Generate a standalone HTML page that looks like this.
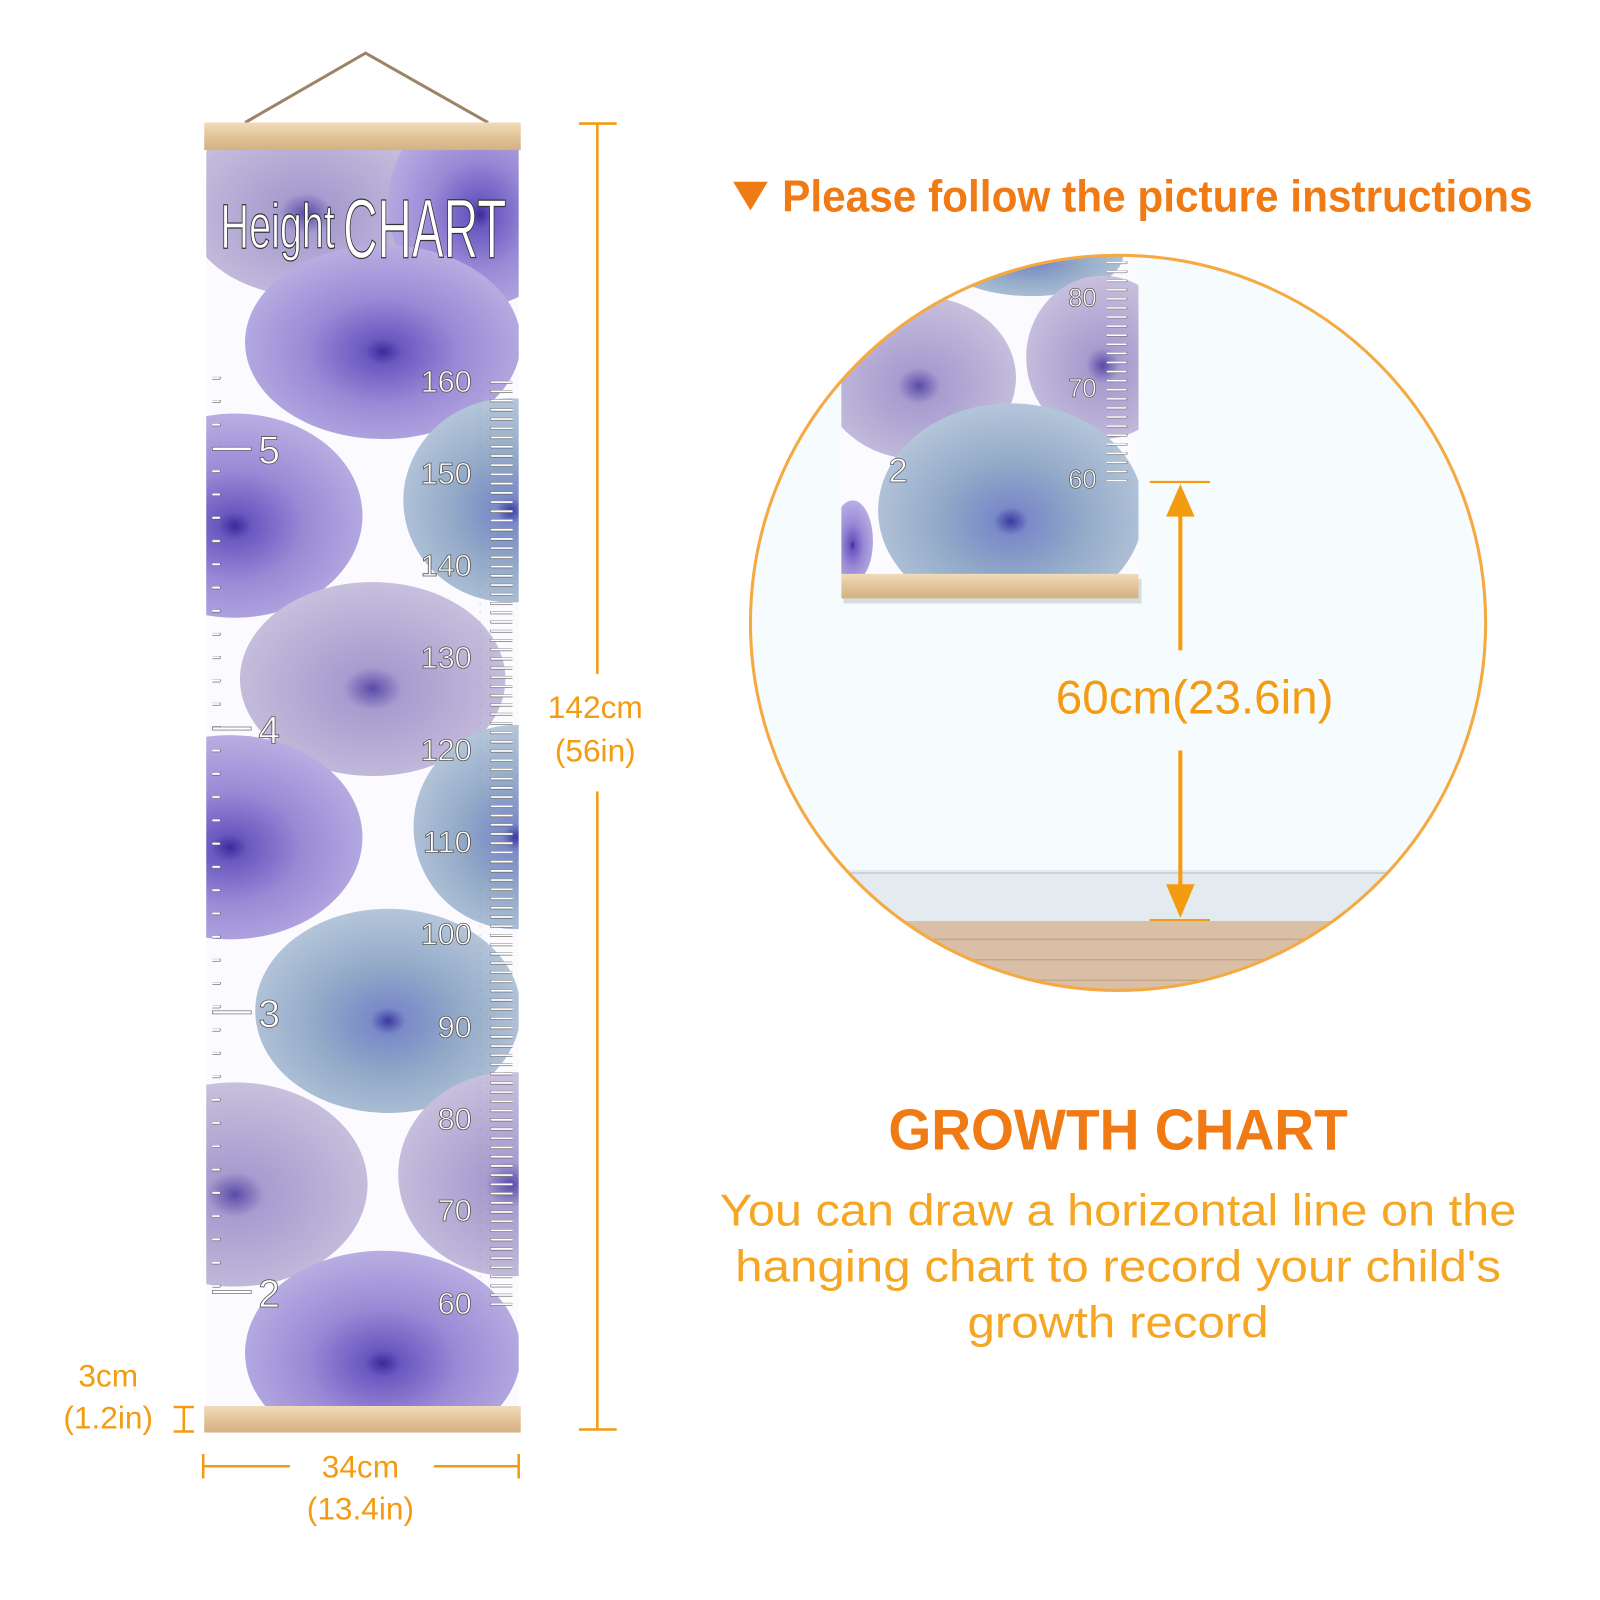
<!DOCTYPE html>
<html><head><meta charset="utf-8"><style>
html,body{margin:0;padding:0;background:#fff}
svg{display:block}
text{font-family:"Liberation Sans","DejaVu Sans",sans-serif}
</style></head><body>
<svg width="1600" height="1600" viewBox="0 0 1567 1567" xmlns="http://www.w3.org/2000/svg">
<defs>
 <radialGradient id="sp" cx="50%" cy="55%" r="55%">
  <stop offset="0" stop-color="#3a2a9a"/>
  <stop offset="0.12" stop-color="#6a58c0"/>
  <stop offset="0.5" stop-color="#9a8ad6"/>
  <stop offset="1" stop-color="#b9aee2"/>
 </radialGradient>
 <radialGradient id="sb" cx="50%" cy="55%" r="55%">
  <stop offset="0" stop-color="#3a3aa0"/>
  <stop offset="0.12" stop-color="#7a8ac8"/>
  <stop offset="0.5" stop-color="#93aac8"/>
  <stop offset="1" stop-color="#b5c6da"/>
 </radialGradient>
 <radialGradient id="sg" cx="50%" cy="55%" r="55%">
  <stop offset="0" stop-color="#5a4aa8"/>
  <stop offset="0.2" stop-color="#a79ccf"/>
  <stop offset="1" stop-color="#c8c0dd"/>
 </radialGradient>
 <linearGradient id="wood" x1="0" y1="0" x2="0" y2="1">
  <stop offset="0" stop-color="#f0dcba"/><stop offset="0.5" stop-color="#e2c498"/><stop offset="1" stop-color="#d3b184"/>
 </linearGradient>
 <pattern id="rt" x="0" y="373" width="40" height="9.03" patternUnits="userSpaceOnUse">
  <rect x="0" y="0" width="30" height="2.6" rx="1.3" fill="#fff" stroke="#555" stroke-width="0.6"/>
 </pattern>
 <pattern id="lt" x="0" y="369" width="40" height="22.8" patternUnits="userSpaceOnUse">
  <rect x="0" y="0" width="16" height="2.6" rx="1.3" fill="#fff" stroke="#555" stroke-width="0.6"/>
 </pattern>
 <pattern id="rt2" x="0" y="256" width="40" height="8.9" patternUnits="userSpaceOnUse">
  <rect x="0" y="0" width="24" height="2.2" rx="1.1" fill="#fff" stroke="#555" stroke-width="0.5"/>
 </pattern>
 <clipPath id="cc"><rect x="202" y="146" width="306" height="1232"/></clipPath>
 <clipPath id="circ"><circle cx="1095" cy="610" r="360"/></clipPath>
 <clipPath id="ins"><rect x="824" y="250" width="291" height="313"/></clipPath>
</defs>

<polyline points="240,120 358,52 478,120" fill="none" stroke="#9c8465" stroke-width="3"/>

<rect x="202" y="146" width="306" height="1232" fill="#fbfbff"/>
<g clip-path="url(#cc)">
 <ellipse cx="300" cy="200" rx="120" ry="90" fill="url(#sg)"/>
 <ellipse cx="470" cy="200" rx="90" ry="100" fill="url(#sp)"/>
 <ellipse cx="375" cy="335" rx="135" ry="95" fill="url(#sp)"/>
 <ellipse cx="230" cy="505" rx="125" ry="100" fill="url(#sp)"/>
 <ellipse cx="500" cy="490" rx="105" ry="100" fill="url(#sb)"/>
 <ellipse cx="365" cy="665" rx="130" ry="95" fill="url(#sg)"/>
 <ellipse cx="225" cy="820" rx="130" ry="100" fill="url(#sp)"/>
 <ellipse cx="505" cy="810" rx="100" ry="100" fill="url(#sb)"/>
 <ellipse cx="380" cy="990" rx="130" ry="100" fill="url(#sb)"/>
 <ellipse cx="230" cy="1160" rx="130" ry="100" fill="url(#sg)"/>
 <ellipse cx="500" cy="1150" rx="110" ry="100" fill="url(#sg)"/>
 <ellipse cx="375" cy="1325" rx="135" ry="100" fill="url(#sp)"/>
 <rect x="470" y="372" width="32" height="908" fill="url(#rt)"/>
 <rect x="208" y="368" width="20" height="900" fill="url(#lt)"/>
</g>
<g font-size="30" fill="#fff" stroke="#555" stroke-width="0.8" text-anchor="end">
 <text x="462" y="384">160</text><text x="462" y="474">150</text><text x="462" y="564">140</text>
 <text x="462" y="654">130</text><text x="462" y="745">120</text><text x="462" y="835">110</text>
 <text x="462" y="925">100</text><text x="462" y="1016">90</text><text x="462" y="1106">80</text>
 <text x="462" y="1196">70</text><text x="462" y="1287">60</text>
</g>
<g font-size="38" fill="#fff" stroke="#555" stroke-width="0.8">
 <text x="253" y="454">5</text><text x="253" y="728">4</text><text x="253" y="1006">3</text><text x="253" y="1280">2</text>
</g>
<g stroke="#555" stroke-width="0.6" fill="#fff">
 <rect x="208" y="438" width="38" height="3"/><rect x="208" y="712" width="38" height="3"/>
 <rect x="208" y="990" width="38" height="3"/><rect x="208" y="1264" width="38" height="3"/>
</g>
<text x="216" y="243" font-size="62" fill="#fff" stroke="#333" stroke-width="1.2" textLength="112" lengthAdjust="spacingAndGlyphs">Height</text>
<text x="336" y="252" font-size="82" fill="#fff" stroke="#333" stroke-width="1.2" textLength="160" lengthAdjust="spacingAndGlyphs">CHART</text>

<rect x="200" y="120" width="310" height="27" fill="url(#wood)"/>
<rect x="200" y="1377" width="310" height="26" fill="url(#wood)"/>

<g stroke="#f39c12" stroke-width="2.5" fill="none">
 <line x1="585" y1="121" x2="585" y2="660"/><line x1="585" y1="775" x2="585" y2="1400"/>
 <line x1="567" y1="121" x2="604" y2="121"/><line x1="567" y1="1400" x2="604" y2="1400"/>
 <line x1="199" y1="1424" x2="199" y2="1448"/><line x1="508" y1="1424" x2="508" y2="1448"/>
 <line x1="199" y1="1436" x2="284" y2="1436"/><line x1="425" y1="1436" x2="508" y2="1436"/>
 <line x1="180" y1="1378" x2="180" y2="1402"/><line x1="170" y1="1378" x2="190" y2="1378"/><line x1="170" y1="1402" x2="190" y2="1402"/>
</g>
<g fill="#f39c12" font-size="31" text-anchor="middle">
 <text x="583" y="703">142cm</text><text x="583" y="746">(56in)</text>
 <text x="353" y="1447">34cm</text><text x="353" y="1488">(13.4in)</text>
 <text x="106" y="1358">3cm</text><text x="106" y="1399">(1.2in)</text>
</g>

<path d="M718 178 L752 178 L735 206 Z" fill="#f07a14"/>
<text x="766" y="207" font-size="44" fill="#f07a14" font-weight="bold" textLength="735" lengthAdjust="spacingAndGlyphs">Please follow the picture instructions</text>

<g clip-path="url(#circ)">
 <rect x="700" y="240" width="800" height="760" fill="#f6fbfd"/>
 <rect x="700" y="852" width="800" height="50" fill="#e4ebf0"/>
 <line x1="700" y1="855" x2="1500" y2="855" stroke="#c8d2d8" stroke-width="2"/>
 <rect x="700" y="902" width="800" height="100" fill="#d9bfa5"/>
 <g stroke="#c4a78a" stroke-width="1.5">
  <line x1="760" y1="920" x2="1440" y2="920"/><line x1="760" y1="940" x2="1440" y2="940"/><line x1="760" y1="960" x2="1440" y2="960"/>
 </g>
 <rect x="826" y="567" width="292" height="24" fill="#000" opacity="0.12"/>
 <rect x="824" y="250" width="291" height="313" fill="#fbfbff"/>
 <g clip-path="url(#ins)">
  <ellipse cx="1010" cy="250" rx="90" ry="40" fill="url(#sb)"/>
  <ellipse cx="900" cy="370" rx="95" ry="80" fill="url(#sg)"/>
  <ellipse cx="1080" cy="350" rx="75" ry="80" fill="url(#sg)"/>
  <ellipse cx="990" cy="500" rx="130" ry="105" fill="url(#sb)"/>
  <ellipse cx="835" cy="530" rx="20" ry="40" fill="url(#sp)"/>
  <rect x="1084" y="256" width="26" height="215" fill="url(#rt2)"/>
 </g>
 <g font-size="25" fill="#fff" stroke="#555" stroke-width="0.7" text-anchor="end">
  <text x="1074" y="300">80</text><text x="1074" y="389">70</text><text x="1074" y="478">60</text>
 </g>
 <text x="870" y="472" font-size="34" fill="#fff" stroke="#555" stroke-width="0.7">2</text>
 <rect x="824" y="562" width="291" height="24" fill="url(#wood)"/>
</g>
<circle cx="1095" cy="610" r="360" fill="none" stroke="#f5a940" stroke-width="3"/>

<g stroke="#f39c12" stroke-width="4" fill="none">
 <line x1="1156" y1="500" x2="1156" y2="637"/><line x1="1156" y1="735" x2="1156" y2="875"/>
</g>
<g stroke="#f39c12" stroke-width="2">
 <line x1="1126" y1="472" x2="1185" y2="472"/><line x1="1126" y1="901" x2="1185" y2="901"/>
</g>
<path d="M1156 474 L1142 506 L1170 506 Z" fill="#f39c12"/>
<path d="M1156 899 L1142 866 L1170 866 Z" fill="#f39c12"/>
<text x="1170" y="699" font-size="46" fill="#f39c12" text-anchor="middle" textLength="272" lengthAdjust="spacingAndGlyphs">60cm(23.6in)</text>

<text x="1095" y="1126" font-size="56" font-weight="bold" fill="#f07a14" text-anchor="middle" textLength="450" lengthAdjust="spacingAndGlyphs">GROWTH CHART</text>
<g font-size="44" fill="#f5a623" text-anchor="middle">
 <text x="1095" y="1200" textLength="780" lengthAdjust="spacingAndGlyphs">You can draw a horizontal line on the</text>
 <text x="1095" y="1255" textLength="750" lengthAdjust="spacingAndGlyphs">hanging chart to record your child's</text>
 <text x="1095" y="1310" textLength="295" lengthAdjust="spacingAndGlyphs">growth record</text>
</g>
</svg>
</body></html>
